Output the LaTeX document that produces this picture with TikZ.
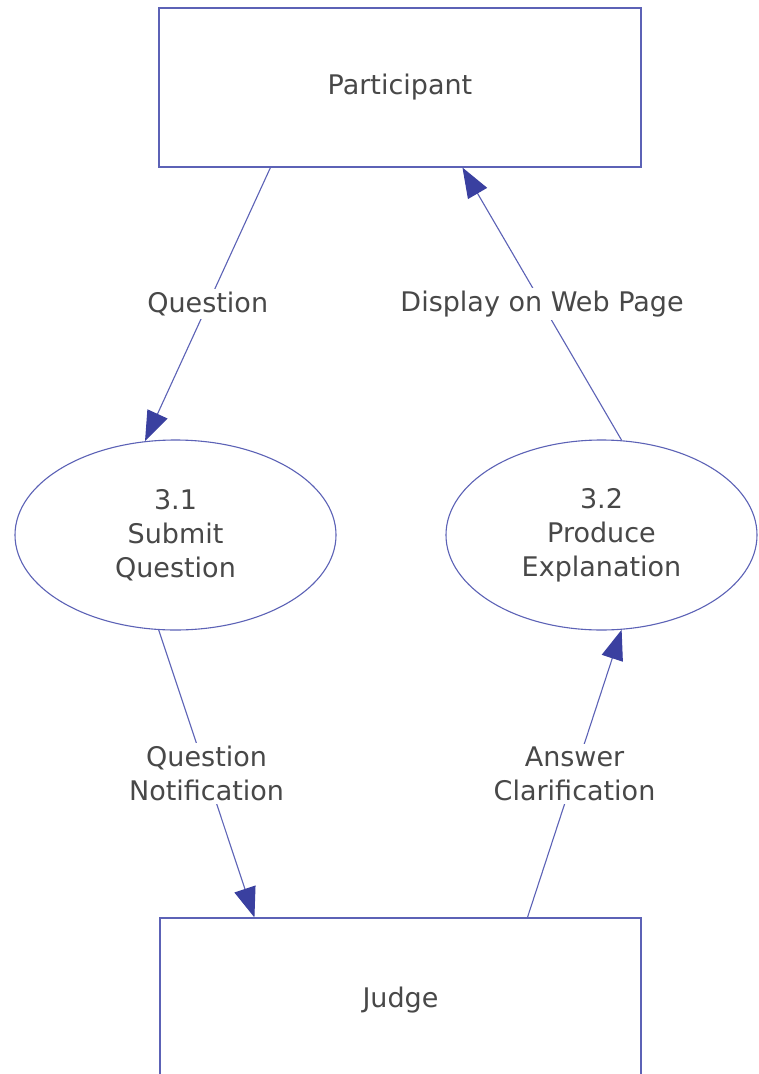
\documentclass[tikz,border=0pt]{standalone}
\usepackage{fontspec}
\setmainfont{DejaVu Sans}
\usetikzlibrary{shapes.geometric,arrows.meta}
\definecolor{lineblue}{RGB}{92,98,182}
\definecolor{tipblue}{RGB}{58,64,160}
\definecolor{txt}{RGB}{72,72,72}
\tikzset{
  every node/.style={text=txt, font=\fontsize{27}{34}\selectfont},
  entity/.style={draw=lineblue, line width=1.1pt, rectangle, inner sep=0pt},
  process/.style={draw=lineblue, line width=1.1pt, ellipse, inner sep=0pt, align=center},
  flow/.style={draw=lineblue, line width=1.1pt, -{Triangle[length=30pt,width=22pt,fill=tipblue,color=tipblue]}},
  flowlabel/.style={fill=white, inner sep=3pt, align=center}
}
\begin{document}
\begin{tikzpicture}[x=1pt,y=-1pt]
\clip (0,0) rectangle (758,1074);
\fill[white] (0,0) rectangle (758,1074);
\node[entity, minimum width=482pt, minimum height=159pt] (P) at (400,87.5) {Participant};
\node[process, minimum width=321pt, minimum height=190pt] (S1) at (175.5,535) {3.1\\Submit\\Question};
\node[process, minimum width=311pt, minimum height=190pt] (S2) at (601.5,535) {3.2\\Produce\\Explanation};
\node[entity, minimum width=481pt, minimum height=164pt] (J) at (400.5,1000) {Judge};
\coordinate (a1) at ([xshift=112pt]P.south west);
\coordinate (a2) at ([xshift=304pt]P.south west);
\coordinate (a3) at ([xshift=95pt]J.north west);
\coordinate (a4) at ([xshift=368pt]J.north west);
\draw[flow] (a1) -- node[flowlabel] (L1) {Question} (S1.108);
\draw[flow] (S2.78) -- node[flowlabel] (L2) {Display on Web Page} (a2);
\draw[flow] (S1.260.7) -- node[flowlabel] (L3) {Question\\Notification} (a3);
\draw[flow] (a4) -- node[flowlabel] (L4) {Answer\\Clarification} (S2.282.2);
\end{tikzpicture}
\end{document}
